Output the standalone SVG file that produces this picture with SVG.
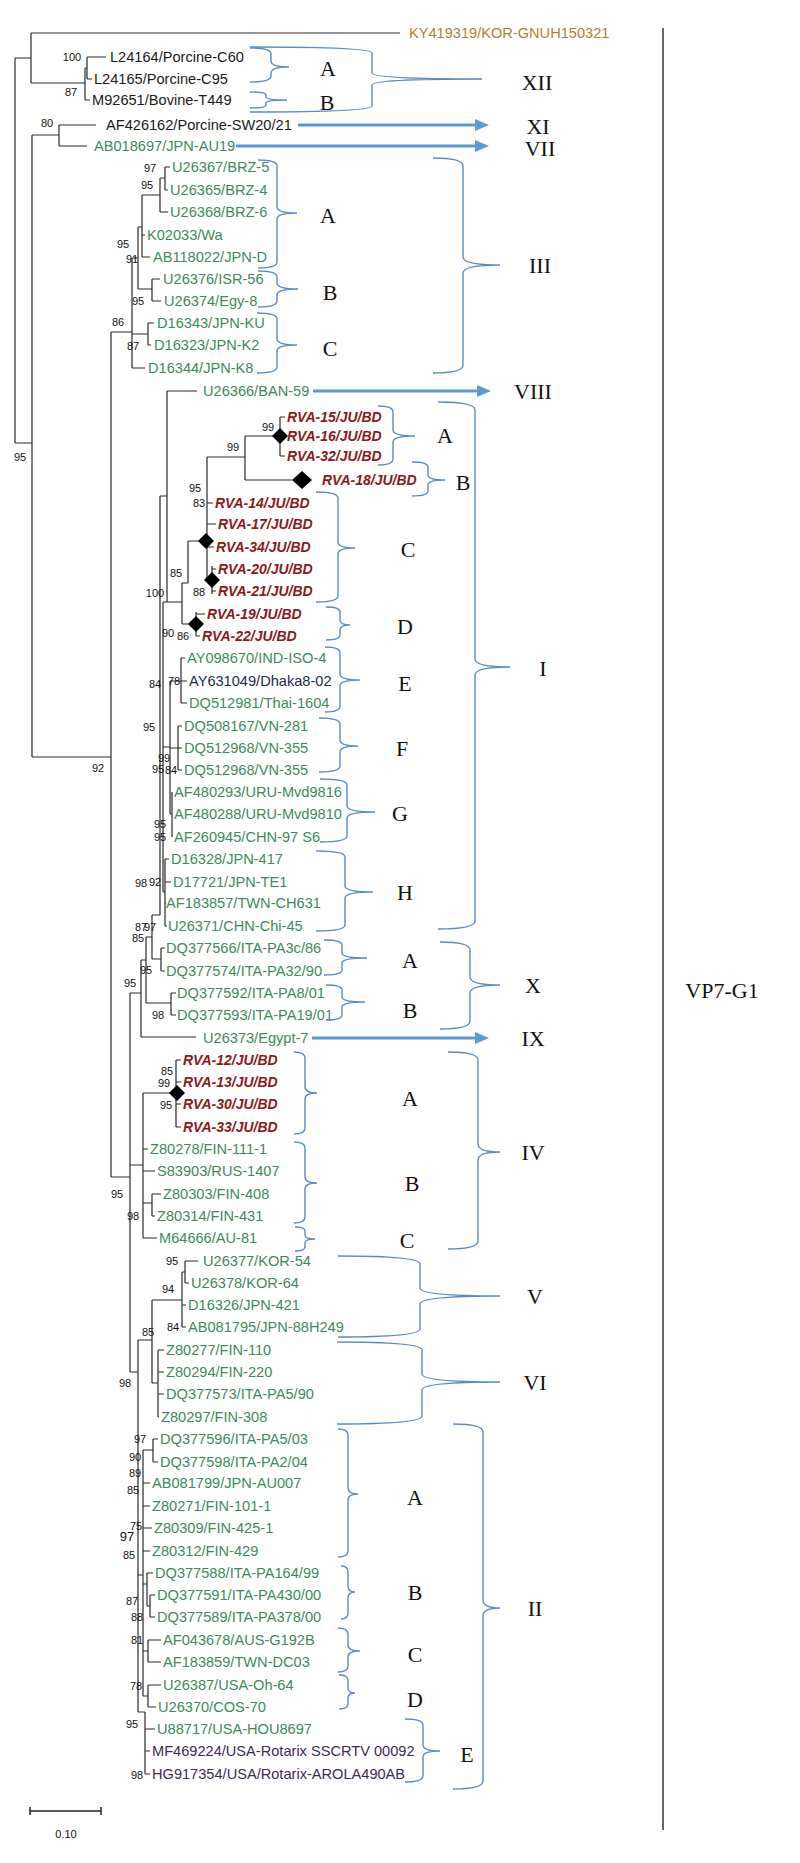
<svg xmlns="http://www.w3.org/2000/svg" width="800" height="1863" viewBox="0 0 800 1863">
<style>
.t{font-family:"Liberation Sans",Arial,sans-serif;font-size:14.6px}
.g{fill:#3b8a5e}.k{fill:#1a1a1a}.o{fill:#b07f2c}.p{fill:#3d2b4f}.n{fill:#1e2a44}
.r{font-family:"Liberation Sans",Arial,sans-serif;font-size:14px;font-weight:bold;font-style:italic;fill:#8b1a1a}
.b{font-family:"Liberation Sans",Arial,sans-serif;font-size:11px;fill:#111;text-anchor:middle}
.s{font-family:"Liberation Serif","Times New Roman",serif;font-size:22px;fill:#111;text-anchor:middle}
.br{fill:none;stroke:#5b8ac4;stroke-width:1.4}
.ar{fill:none;stroke:#5b9bd5;stroke-width:3;marker-end:url(#ah)}
.tr{fill:none;stroke:#2a2a2a;stroke-width:1.2}
.dm{fill:#000}
</style>
<defs>
<marker id="ah" viewBox="0 0 14 12" refX="4" refY="6" markerWidth="14" markerHeight="12" markerUnits="userSpaceOnUse" orient="auto"><path d="M0 0 L14 6 L0 12 z" fill="#5b9bd5"/></marker>
</defs>
<rect width="800" height="1863" fill="#fff"/>
<g id="connectors">
<path class="tr" d="M15 58V443M15 58H31M31 33V83M31 33H400M31 83H85M85 68V100M85 68H87M87 57V79M87 57H106M87 79H92M85 100H90M15 443H32M32 135V757M32 135H59M59 125V146M59 125H96M59 146H87M32 757H111M111 332V1177M111 332H132"/>
<path class="tr" d="M132 258V368M132 258H138M138 227V289M138 227H142M142 195V257M142 195H160M160 178V212M160 178H165M165 167V190M165 167H170M165 190H168M160 212H168M142 235H145M142 257H150M138 289H152M152 279V301M152 279H160M152 301H161M132 334H148M148 323V345M148 323H154M148 345H151M132 368H145"/>
<path class="tr" d="M167 391H197M167 391V602M163 602H182M163 602V892M182 583V624M182 583H188M188 541V583M188 541H207M207 457V580M207 457H245M245 436V480M245 436H280M280 417V456M280 417H285M280 456H285M245 480H292M207 503H213M207 524H216M207 547H214M207 580H212M212 566V594M212 569H216M212 591H216M182 624H196M196 612V636M196 614H205M196 636H200"/>
<path class="tr" d="M170 681V814M170 681H181M181 658V703M181 658H185M181 681H187M181 703H187M170 748H178M178 726V770M178 726H182M178 748H182M178 770H182M170 814H172M172 792V837M163 747H170M165 859V926M165 859H169M165 882H171M165 903H166M165 926H167M163 892H165M160 496V915M160 496H167M152 915V959M152 915H160M152 959H161M161 948V971M161 948H165M161 971H165M146 937V1003M146 937H152M146 1003H171M171 993V1015M171 993H176M171 1015H176M141 960V1037M141 960H146M141 1037H196M130 993V1372M130 993H141M111 1177H130"/>
<path class="tr" d="M143 1093V1238M143 1093H176M176 1060V1127M176 1060H181M176 1082H181M176 1104H181M176 1127H181M143 1149H148M143 1171H155M143 1203H152M152 1194V1216M152 1194H161M152 1216H155M143 1238H157M130 1165H143"/>
<path class="tr" d="M138 1340V1712M130 1372H138M138 1340H152M152 1300V1383M152 1300H182M182 1272V1327M182 1272H185M185 1261V1283M185 1261H198M185 1283H189M182 1305H186M182 1327H186M152 1383H158M158 1350V1417M158 1350H164M158 1372H164M158 1394H164M158 1417H159"/>
<path class="tr" d="M143 1450V1696M138 1575H143M143 1450H153M153 1439V1462M153 1439H158M153 1462H158M143 1483H150M143 1506H150M143 1528H152M143 1551H150M143 1584H147M147 1573V1606M147 1573H153M147 1606H150M150 1595V1617M150 1595H155M150 1617H155M143 1651H148M148 1640V1662M148 1640H161M148 1662H161M143 1696H148M148 1685V1707M148 1685H161M148 1707H156M138 1712H145M145 1712V1774M145 1729H155M145 1751H150M145 1774H150"/>
<path class="ar" d="M298 125H479"/>
<path class="ar" d="M236 146H479"/>
<path class="ar" d="M313 391H481"/>
<path class="ar" d="M312 1038H479"/>
<path fill="none" stroke="#333" stroke-width="1.5" d="M663 28V1830"/>
</g>
<g id="diamonds">
<polygon class="dm" points="280,428 288,436 280,444 272,436"/>
<polygon class="dm" points="302,471 312,480 302,489 292,480"/>
<polygon class="dm" points="206,533 214,541 206,549 198,541"/>
<polygon class="dm" points="212,572 220,580 212,588 204,580"/>
<polygon class="dm" points="196,616 204,624 196,632 188,624"/>
<polygon class="dm" points="177,1085 185,1093 177,1101 169,1093"/>
</g>
<g id="leaves">
<g id="n-KY419319"><text class="t o" x="409" y="38">KY419319/KOR-GNUH150321</text></g>
<g id="n-L24164"><text class="t k" x="110" y="62">L24164/Porcine-C60</text></g>
<g id="n-L24165"><text class="t k" x="94" y="84">L24165/Porcine-C95</text></g>
<g id="n-M92651"><text class="t k" x="92" y="105">M92651/Bovine-T449</text></g>
<g id="n-AF426162"><text class="t k" x="106" y="130">AF426162/Porcine-SW20/21</text></g>
<g id="n-AB018697"><text class="t g" x="94" y="151">AB018697/JPN-AU19</text></g>
<g id="n-U26367"><text class="t g" x="172" y="172">U26367/BRZ-5</text></g>
<g id="n-U26365"><text class="t g" x="170" y="195">U26365/BRZ-4</text></g>
<g id="n-U26368"><text class="t g" x="170" y="217">U26368/BRZ-6</text></g>
<g id="n-K02033"><text class="t g" x="147" y="240">K02033/Wa</text></g>
<g id="n-AB118022"><text class="t g" x="153" y="262">AB118022/JPN-D</text></g>
<g id="n-U26376"><text class="t g" x="163" y="284">U26376/ISR-56</text></g>
<g id="n-U26374"><text class="t g" x="164" y="306">U26374/Egy-8</text></g>
<g id="n-D16343"><text class="t g" x="157" y="328">D16343/JPN-KU</text></g>
<g id="n-D16323"><text class="t g" x="154" y="350">D16323/JPN-K2</text></g>
<g id="n-D16344"><text class="t g" x="148" y="373">D16344/JPN-K8</text></g>
<g id="n-U26366"><text class="t g" x="203" y="396">U26366/BAN-59</text></g>
<g id="n-RVA15"><text class="r" x="287" y="422">RVA-15/JU/BD</text></g>
<g id="n-RVA16"><text class="r" x="287" y="441">RVA-16/JU/BD</text></g>
<g id="n-RVA32"><text class="r" x="287" y="461">RVA-32/JU/BD</text></g>
<g id="n-RVA18"><text class="r" x="322" y="485">RVA-18/JU/BD</text></g>
<g id="n-RVA14"><text class="r" x="215" y="508">RVA-14/JU/BD</text></g>
<g id="n-RVA17"><text class="r" x="218" y="529">RVA-17/JU/BD</text></g>
<g id="n-RVA34"><text class="r" x="216" y="552">RVA-34/JU/BD</text></g>
<g id="n-RVA20"><text class="r" x="218" y="574">RVA-20/JU/BD</text></g>
<g id="n-RVA21"><text class="r" x="218" y="596">RVA-21/JU/BD</text></g>
<g id="n-RVA19"><text class="r" x="207" y="619">RVA-19/JU/BD</text></g>
<g id="n-RVA22"><text class="r" x="202" y="641">RVA-22/JU/BD</text></g>
<g id="n-AY098670"><text class="t g" x="187" y="663">AY098670/IND-ISO-4</text></g>
<g id="n-AY631049"><text class="t n" x="189" y="686">AY631049/Dhaka8-02</text></g>
<g id="n-DQ512981"><text class="t g" x="189" y="708">DQ512981/Thai-1604</text></g>
<g id="n-DQ508167"><text class="t g" x="184" y="731">DQ508167/VN-281</text></g>
<g id="n-DQ512968a"><text class="t g" x="184" y="753">DQ512968/VN-355</text></g>
<g id="n-DQ512968b"><text class="t g" x="184" y="775">DQ512968/VN-355</text></g>
<g id="n-AF480293"><text class="t g" x="174" y="797">AF480293/URU-Mvd9816</text></g>
<g id="n-AF480288"><text class="t g" x="174" y="819">AF480288/URU-Mvd9810</text></g>
<g id="n-AF260945"><text class="t g" x="174" y="842">AF260945/CHN-97 S6</text></g>
<g id="n-D16328"><text class="t g" x="171" y="864">D16328/JPN-417</text></g>
<g id="n-D17721"><text class="t g" x="173" y="887">D17721/JPN-TE1</text></g>
<g id="n-AF183857"><text class="t g" x="166" y="908">AF183857/TWN-CH631</text></g>
<g id="n-U26371"><text class="t g" x="168" y="931">U26371/CHN-Chi-45</text></g>
<g id="n-DQ377566"><text class="t g" x="166" y="953">DQ377566/ITA-PA3c/86</text></g>
<g id="n-DQ377574"><text class="t g" x="166" y="976">DQ377574/ITA-PA32/90</text></g>
<g id="n-DQ377592"><text class="t g" x="177" y="998">DQ377592/ITA-PA8/01</text></g>
<g id="n-DQ377593"><text class="t g" x="177" y="1020">DQ377593/ITA-PA19/01</text></g>
<g id="n-U26373"><text class="t g" x="203" y="1043">U26373/Egypt-7</text></g>
<g id="n-RVA12"><text class="r" x="183" y="1065">RVA-12/JU/BD</text></g>
<g id="n-RVA13"><text class="r" x="183" y="1087">RVA-13/JU/BD</text></g>
<g id="n-RVA30"><text class="r" x="183" y="1109">RVA-30/JU/BD</text></g>
<g id="n-RVA33"><text class="r" x="183" y="1132">RVA-33/JU/BD</text></g>
<g id="n-Z80278"><text class="t g" x="150" y="1154">Z80278/FIN-111-1</text></g>
<g id="n-S83903"><text class="t g" x="157" y="1176">S83903/RUS-1407</text></g>
<g id="n-Z80303"><text class="t g" x="163" y="1199">Z80303/FIN-408</text></g>
<g id="n-Z80314"><text class="t g" x="157" y="1221">Z80314/FIN-431</text></g>
<g id="n-M64666"><text class="t g" x="159" y="1243">M64666/AU-81</text></g>
<g id="n-U26377"><text class="t g" x="203" y="1266">U26377/KOR-54</text></g>
<g id="n-U26378"><text class="t g" x="191" y="1288">U26378/KOR-64</text></g>
<g id="n-D16326"><text class="t g" x="188" y="1310">D16326/JPN-421</text></g>
<g id="n-AB081795"><text class="t g" x="188" y="1332">AB081795/JPN-88H249</text></g>
<g id="n-Z80277"><text class="t g" x="166" y="1355">Z80277/FIN-110</text></g>
<g id="n-Z80294"><text class="t g" x="166" y="1377">Z80294/FIN-220</text></g>
<g id="n-DQ377573"><text class="t g" x="166" y="1399">DQ377573/ITA-PA5/90</text></g>
<g id="n-Z80297"><text class="t g" x="161" y="1422">Z80297/FIN-308</text></g>
<g id="n-DQ377596"><text class="t g" x="160" y="1444">DQ377596/ITA-PA5/03</text></g>
<g id="n-DQ377598"><text class="t g" x="160" y="1467">DQ377598/ITA-PA2/04</text></g>
<g id="n-AB081799"><text class="t g" x="152" y="1488">AB081799/JPN-AU007</text></g>
<g id="n-Z80271"><text class="t g" x="152" y="1511">Z80271/FIN-101-1</text></g>
<g id="n-Z80309"><text class="t g" x="154" y="1533">Z80309/FIN-425-1</text></g>
<g id="n-Z80312"><text class="t g" x="152" y="1556">Z80312/FIN-429</text></g>
<g id="n-DQ377588"><text class="t g" x="155" y="1578">DQ377588/ITA-PA164/99</text></g>
<g id="n-DQ377591"><text class="t g" x="157" y="1600">DQ377591/ITA-PA430/00</text></g>
<g id="n-DQ377589"><text class="t g" x="157" y="1622">DQ377589/ITA-PA378/00</text></g>
<g id="n-AF043678"><text class="t g" x="163" y="1645">AF043678/AUS-G192B</text></g>
<g id="n-AF183859"><text class="t g" x="163" y="1667">AF183859/TWN-DC03</text></g>
<g id="n-U26387"><text class="t g" x="163" y="1690">U26387/USA-Oh-64</text></g>
<g id="n-U26370"><text class="t g" x="158" y="1712">U26370/COS-70</text></g>
<g id="n-U88717"><text class="t g" x="157" y="1734">U88717/USA-HOU8697</text></g>
<g id="n-MF469224"><text class="t p" x="152" y="1756">MF469224/USA-Rotarix SSCRTV 00092</text></g>
<g id="n-HG917354"><text class="t p" x="152" y="1779">HG917354/USA/Rotarix-AROLA490AB</text></g>
</g>
<g id="bootstrap">
<text class="b" x="72" y="61">100</text><text class="b" x="71" y="96">87</text><text class="b" x="47" y="127">80</text>
<text class="b" x="150" y="172">97</text><text class="b" x="147" y="189">95</text><text class="b" x="123" y="248">95</text><text class="b" x="132" y="263">91</text><text class="b" x="138" y="305">95</text><text class="b" x="118" y="326">86</text><text class="b" x="133" y="350">87</text>
<text class="b" x="20" y="461">95</text><text class="b" x="268" y="431">99</text><text class="b" x="233" y="451">99</text><text class="b" x="195" y="492">95</text><text class="b" x="199" y="507">83</text><text class="b" x="176" y="577">85</text><text class="b" x="155" y="597">100</text><text class="b" x="199" y="596">88</text><text class="b" x="168" y="637">90</text><text class="b" x="183" y="640">86</text>
<text class="b" x="155" y="688">84</text><text class="b" x="174" y="685">78</text><text class="b" x="149" y="731">95</text><text class="b" x="164" y="762">99</text><text class="b" x="158" y="773">95</text><text class="b" x="171" y="774">84</text><text class="b" x="98" y="772">92</text>
<text class="b" x="160" y="828">95</text><text class="b" x="160" y="841">95</text><text class="b" x="141" y="887">98</text><text class="b" x="155" y="886">92</text><text class="b" x="141" y="931">87</text><text class="b" x="150" y="931">97</text><text class="b" x="138" y="942">85</text><text class="b" x="146" y="974">95</text><text class="b" x="130" y="987">95</text><text class="b" x="158" y="1019">98</text>
<text class="b" x="167" y="1075">85</text><text class="b" x="164" y="1087">99</text><text class="b" x="166" y="1109">95</text><text class="b" x="117" y="1198">95</text><text class="b" x="133" y="1220">98</text>
<text class="b" x="172" y="1265">95</text><text class="b" x="168" y="1293">94</text><text class="b" x="173" y="1331">84</text><text class="b" x="148" y="1336">85</text><text class="b" x="125" y="1387">98</text>
<text class="b" x="140" y="1443">97</text><text class="b" x="135" y="1461">90</text><text class="b" x="135" y="1477">89</text><text class="b" x="133" y="1494">85</text><text class="b" x="136" y="1530">75</text><text class="b" x="127" y="1541" style="font-size:13px">97</text><text class="b" x="129" y="1559">85</text>
<text class="b" x="132" y="1605">87</text><text class="b" x="137" y="1621">88</text><text class="b" x="137" y="1644">81</text><text class="b" x="136" y="1690">78</text><text class="b" x="132" y="1728">95</text><text class="b" x="137" y="1779">98</text>
</g>
<g id="brackets">
<path class="br" d="M250 47Q372 47 372 53V73Q372 79 482 79Q372 79 372 85V106Q372 112 250 112"/>
<path class="br" d="M250 48Q271 48 271 54V61Q271 67 289 67Q271 67 271 73V76Q271 82 250 82"/>
<path class="br" d="M250 92Q266 92 266 95V97Q266 100 287 100Q266 100 266 103V105Q266 108 250 108"/>
<path class="br" d="M258 160Q277 160 277 166V207Q277 213 297 213Q277 213 277 219V262Q277 268 258 268"/>
<path class="br" d="M258 271Q277 271 277 277V283Q277 289 298 289Q277 289 277 295V301Q277 307 258 307"/>
<path class="br" d="M257 313Q277 313 277 319V339Q277 345 297 345Q277 345 277 351V367Q277 373 257 373"/>
<path class="br" d="M433 158Q463 158 463 166V257Q463 265 500 265Q463 265 463 273V365Q463 373 433 373"/>
<path class="br" d="M378 406Q393 406 393 412V430Q393 436 415 436Q393 436 393 442V459Q393 465 378 465"/>
<path class="br" d="M412 462Q428 462 428 467V475Q428 480 445 480Q428 480 428 485V491Q428 496 412 496"/>
<path class="br" d="M316 492Q338 492 338 498V542Q338 548 355 548Q338 548 338 554V596Q338 602 316 602"/>
<path class="br" d="M326 607Q340 607 340 612V620Q340 625 350 625Q340 625 340 630V635Q340 640 326 640"/>
<path class="br" d="M325 647Q340 647 340 653V674Q340 680 360 680Q340 680 340 686V706Q340 712 325 712"/>
<path class="br" d="M319 718Q340 718 340 724V740Q340 746 358 746Q340 746 340 752V766Q340 772 319 772"/>
<path class="br" d="M320 779Q347 779 347 785V806Q347 812 375 812Q347 812 347 818V836Q347 842 320 842"/>
<path class="br" d="M316 851Q345 851 345 857V886Q345 892 373 892Q345 892 345 898V925Q345 931 316 931"/>
<path class="br" d="M438 402Q475 402 475 410V659Q475 667 510 667Q475 667 475 675V921Q475 929 438 929"/>
<path class="br" d="M324 940Q342 940 342 945V953Q342 958 367 958Q342 958 342 963V970Q342 975 324 975"/>
<path class="br" d="M326 985Q342 985 342 990V997Q342 1002 365 1002Q342 1002 342 1007V1015Q342 1020 326 1020"/>
<path class="br" d="M440 942Q470 942 470 950V977Q470 985 500 985Q470 985 470 993V1021Q470 1029 440 1029"/>
<path class="br" d="M294 1052Q305 1052 305 1058V1087Q305 1093 317 1093Q305 1093 305 1099V1128Q305 1134 294 1134"/>
<path class="br" d="M294 1142Q305 1142 305 1148V1177Q305 1183 317 1183Q305 1183 305 1189V1217Q305 1223 294 1223"/>
<path class="br" d="M295 1227Q305 1227 305 1231V1235Q305 1239 315 1239Q305 1239 305 1243V1247Q305 1251 295 1251"/>
<path class="br" d="M448 1052Q478 1052 478 1060V1144Q478 1152 500 1152Q478 1152 478 1160V1241Q478 1249 448 1249"/>
<path class="br" d="M338 1256Q420 1256 420 1264V1288Q420 1296 500 1296Q420 1296 420 1304V1329Q420 1337 338 1337"/>
<path class="br" d="M337 1342Q422 1342 422 1350V1374Q422 1382 500 1382Q422 1382 422 1390V1416Q422 1424 337 1424"/>
<path class="br" d="M338 1429Q348 1429 348 1435V1488Q348 1494 358 1494Q348 1494 348 1500V1551Q348 1557 338 1557"/>
<path class="br" d="M341 1566Q348 1566 348 1572V1586Q348 1592 355 1592Q348 1592 348 1598V1613Q348 1619 341 1619"/>
<path class="br" d="M338 1628Q348 1628 348 1634V1645Q348 1651 360 1651Q348 1651 348 1657V1666Q348 1672 338 1672"/>
<path class="br" d="M339 1675Q348 1675 348 1680V1688Q348 1693 355 1693Q348 1693 348 1698V1704Q348 1709 339 1709"/>
<path class="br" d="M405 1719Q423 1719 423 1725V1745Q423 1751 440 1751Q423 1751 423 1757V1776Q423 1782 405 1782"/>
<path class="br" d="M453 1424Q483 1424 483 1432V1600Q483 1608 500 1608Q483 1608 483 1616V1781Q483 1789 453 1789"/>
</g>
<g id="clade-labels">
<text class="s" x="328" y="76">A</text><text class="s" x="327" y="110">B</text><text class="s" x="537" y="90">XII</text>
<text class="s" x="538" y="134">XI</text><text class="s" x="540" y="156">VII</text>
<text class="s" x="328" y="223">A</text><text class="s" x="330" y="300">B</text><text class="s" x="330" y="356">C</text><text class="s" x="540" y="273">III</text>
<text class="s" x="533" y="399">VIII</text>
<text class="s" x="445" y="443">A</text><text class="s" x="463" y="490">B</text><text class="s" x="408" y="557">C</text><text class="s" x="405" y="634">D</text><text class="s" x="405" y="691">E</text><text class="s" x="402" y="756">F</text><text class="s" x="400" y="821">G</text><text class="s" x="405" y="900">H</text><text class="s" x="543" y="676">I</text>
<text class="s" x="410" y="968">A</text><text class="s" x="410" y="1018">B</text><text class="s" x="533" y="993">X</text>
<text class="s" x="533" y="1046">IX</text>
<text class="s" x="410" y="1106">A</text><text class="s" x="412" y="1191">B</text><text class="s" x="407" y="1248">C</text><text class="s" x="533" y="1160">IV</text>
<text class="s" x="535" y="1304">V</text><text class="s" x="535" y="1390">VI</text>
<text class="s" x="415" y="1505">A</text><text class="s" x="415" y="1600">B</text><text class="s" x="415" y="1662">C</text><text class="s" x="415" y="1707">D</text><text class="s" x="467" y="1762">E</text><text class="s" x="535" y="1616">II</text>
<text class="s" x="722" y="998">VP7-G1</text>
</g>
<g id="scale">
<path fill="none" stroke="#222" stroke-width="1.5" d="M30 1811H101M30 1807V1815M101 1807V1815"/>
<text class="b" x="66" y="1838">0.10</text>
</g>
</svg>
